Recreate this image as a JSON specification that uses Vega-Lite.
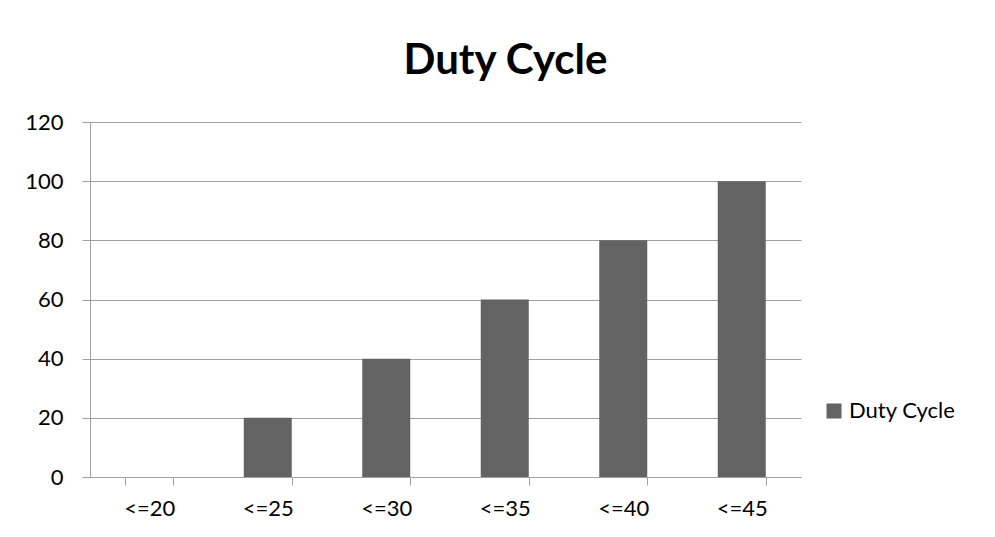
{
  "$schema": "https://vega.github.io/schema/vega-lite/v6.json",
  "autosize": {"type": "none"},
  "padding": {"left": 90, "top": 122, "right": 194, "bottom": 60},
  "width": 711,
  "height": 355,
  "background": "white",
  "title": {
    "text": "Duty Cycle",
    "font": "Lato",
    "fontSize": 42,
    "fontWeight": "bold",
    "color": "#000000",
    "anchor": "middle",
    "dx": 60,
    "baseline": "alphabetic",
    "offset": -5
  },
  "data": {
    "values": [
      {"category": "<=20", "value": 0, "series": "Duty Cycle"},
      {"category": "<=25", "value": 20, "series": "Duty Cycle"},
      {"category": "<=30", "value": 40, "series": "Duty Cycle"},
      {"category": "<=35", "value": 60, "series": "Duty Cycle"},
      {"category": "<=40", "value": 80, "series": "Duty Cycle"},
      {"category": "<=45", "value": 100, "series": "Duty Cycle"}
    ]
  },
  "mark": {"type": "bar"},
  "encoding": {
    "x": {
      "field": "category",
      "type": "nominal",
      "sort": null,
      "scale": {"paddingInner": 0.595, "paddingOuter": 0.2975},
      "axis": {
        "title": null,
        "labelAngle": 0,
        "labelFont": "Lato",
        "labelFontSize": 22,
        "labelColor": "#000000",
        "labelPadding": 13,
        "tickBand": "extent",
        "tickSize": 8,
        "tickColor": "#a0a0a0",
        "domainColor": "#a0a0a0",
        "grid": false
      }
    },
    "y": {
      "field": "value",
      "type": "quantitative",
      "scale": {"domain": [0, 120], "nice": false},
      "axis": {
        "title": null,
        "values": [0, 20, 40, 60, 80, 100, 120],
        "labelFont": "Lato",
        "labelFontSize": 22,
        "labelColor": "#000000",
        "labelPadding": 19,
        "tickSize": 8,
        "tickColor": "#a0a0a0",
        "domainColor": "#a0a0a0",
        "gridColor": "#a0a0a0",
        "grid": true
      }
    },
    "color": {
      "field": "series",
      "type": "nominal",
      "scale": {"range": ["#636363"]},
      "legend": {
        "title": null,
        "orient": "none",
        "legendX": 733,
        "legendY": 278,
        "symbolType": "square",
        "symbolSize": 225,
        "symbolStrokeWidth": 0,
        "labelFont": "Lato",
        "labelFontSize": 22,
        "labelColor": "#000000",
        "labelOffset": 4
      }
    }
  },
  "config": {
    "view": {"stroke": null}
  }
}
